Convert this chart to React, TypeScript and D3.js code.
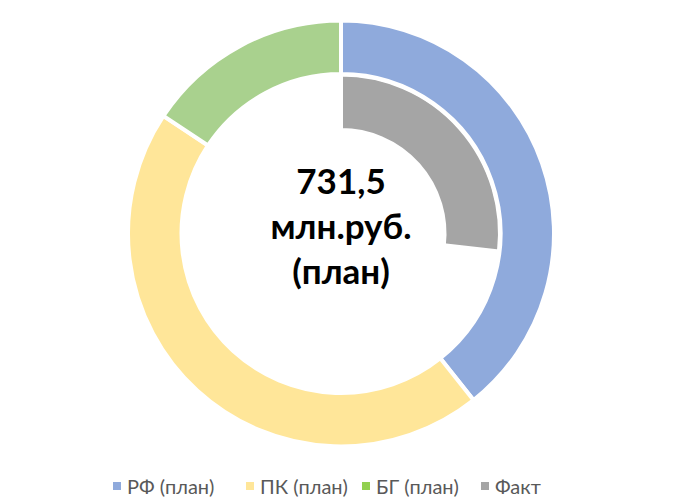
import React from "react";
import * as d3 from "d3";

const categories = ["РФ (план)", "ПК (план)", "БГ (план)"];
const planValues = [287.5, 329.2, 114.8];
const factLabel = "Факт";
const factValue = 196.0;
const planTotalLabel = ["731,5", "млн.руб.", "(план)"];

const ringColors = ["#8FAADC", "#FFE699", "#A9D18E"];
const factColor = "#A5A5A5";
const legendColors = ["#8FAADC", "#FFE699", "#92D050", "#A5A5A5"];

const W = 673;
const H = 504;
const cx = 341;
const cy = 233.5;

export default function App() {
  const total = d3.sum(planValues);
  const pie = d3
    .pie<number>()
    .sort(null)
    .value((d) => d);
  const outerArcs = pie(planValues);
  const innerArcs = pie([factValue, total - factValue]);

  const outerArc = d3.arc<d3.PieArcDatum<number>>().innerRadius(159.5).outerRadius(213);
  const innerArc = d3.arc<d3.PieArcDatum<number>>().innerRadius(103.5).outerRadius(159);

  const legendItems = [...categories, factLabel];
  const legendX = [113, 246, 362, 481];
  const legendY = 486;

  return (
    <svg
      width={W}
      height={H}
      style={{ position: "absolute", left: 0, top: 0, background: "#fff" }}
      fontFamily="Lato, 'Open Sans', sans-serif"
    >
      <rect x={0} y={0} width={W} height={H} fill="#fff" />
      <g transform={`translate(${cx},${cy})`}>
        {innerArcs.slice(0, 1).map((a, i) => (
          <path key={"in" + i} d={innerArc(a) || ""} fill={factColor} stroke="#fff" strokeWidth={4} />
        ))}
        {outerArcs.map((a, i) => (
          <path key={"out" + i} d={outerArc(a) || ""} fill={ringColors[i]} stroke="#fff" strokeWidth={4} />
        ))}
        {planTotalLabel.map((t, i) => (
          <text
            key={t}
            x={0}
            y={-40 + i * 45}
            textAnchor="middle"
            fontSize={35}
            fontWeight="bold"
            fill="#000"
          >
            {t}
          </text>
        ))}
      </g>
      {legendItems.map((t, i) => (
        <g key={t}>
          <rect x={legendX[i]} y={legendY - 4} width={8} height={8} fill={legendColors[i]} />
          <text x={legendX[i] + 14} y={legendY + 8} fontSize={20} fill="#595959">
            {t}
          </text>
        </g>
      ))}
    </svg>
  );
}
